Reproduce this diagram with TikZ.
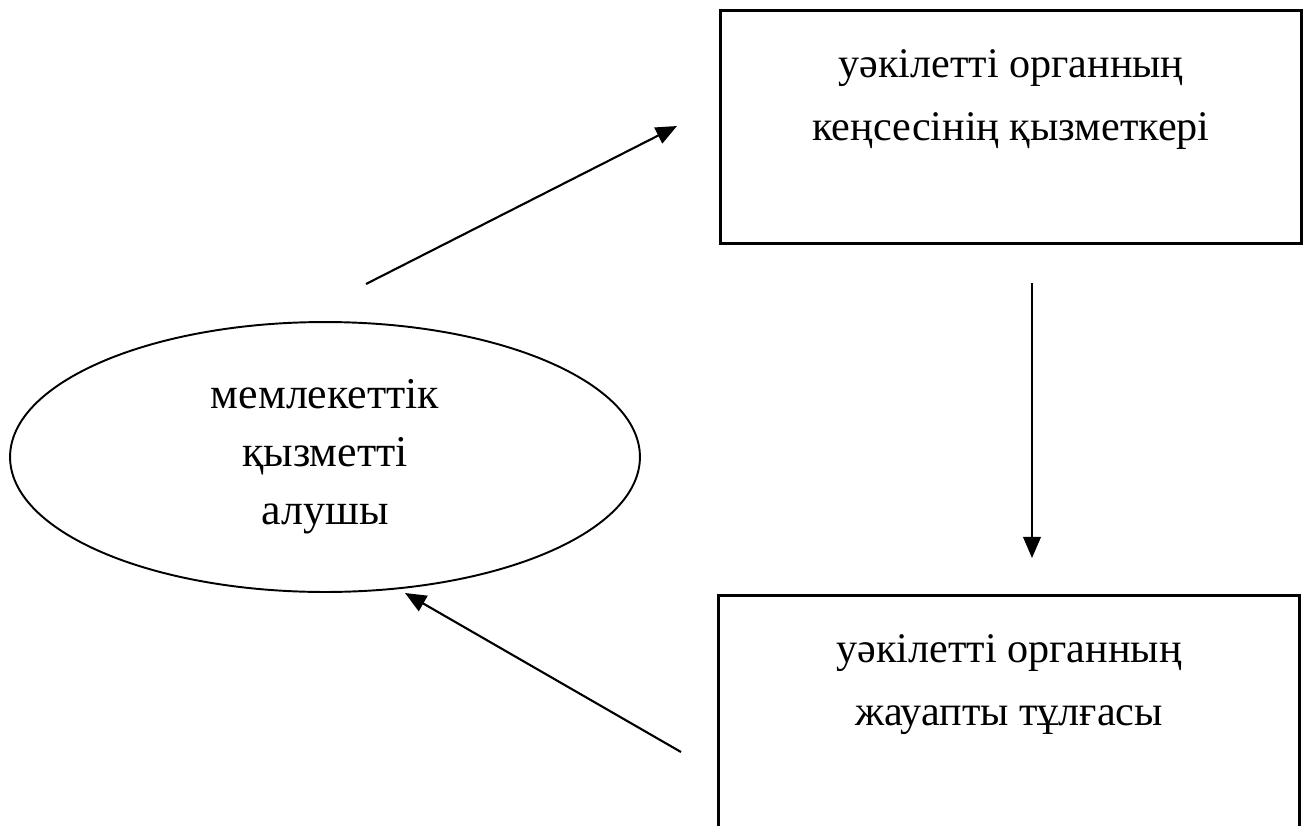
\documentclass[tikz,border=0pt]{standalone}
\usepackage{fontspec}
\setmainfont{Liberation Serif}
\usetikzlibrary{arrows.meta,shapes.geometric}

\begin{document}
\begin{tikzpicture}[x=0.02cm,y=-0.02cm,
    officebox/.style={draw,line width=1.7pt,minimum width=11.64cm,minimum height=4.66cm,
      align=center,font=\fontsize{24}{36}\selectfont},
    client/.style={draw,ellipse,line width=1.1pt,minimum width=12.6cm,minimum height=5.4cm,
      inner sep=0pt,align=center,font=\fontsize{25}{33}\selectfont},
    flow/.style={line width=1.2pt,-{Triangle[length=12pt,width=10pt]}}]
    \useasboundingbox (0,0) rectangle (1304,825);
    \node[officebox] (staff) at (1011,127) {уәкілетті органның\\кеңсесінің қызметкері\\ };
    \node[officebox] (resp) at (1009,712) {уәкілетті органның\\жауапты тұлғасы\\ };
    \node[client] (recv) at (325,457) {мемлекеттік\\қызметті\\алушы};
    \coordinate (a1) at (366,284);
    \coordinate (b1) at (677,126);
    \coordinate (a2) at (1032,283);
    \coordinate (b2) at (1032,558);
    \coordinate (a3) at (681,752);
    \coordinate (b3) at (405,593);
    \draw[flow] (a1) -- (b1);
    \draw[flow] (a2) -- (b2);
    \draw[flow] (a3) -- (b3);
  \end{tikzpicture}
\end{document}
